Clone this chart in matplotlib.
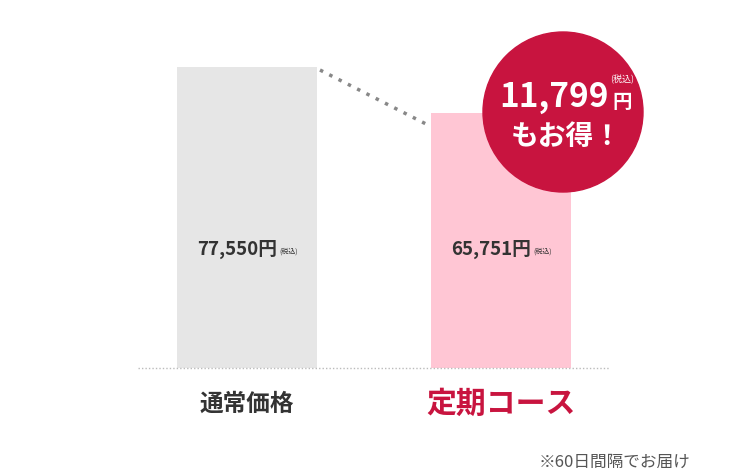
import matplotlib
matplotlib.use("Agg")
import matplotlib.pyplot as plt
from matplotlib.patches import Circle

plt.rcParams['font.family'] = ['Noto Sans CJK JP', 'DejaVu Sans']

categories = ["通常価格", "定期コース"]
prices = [77550, 65751]
price_labels = ["77,550", "65,751"]
savings_label = "11,799"
note = "※60日間隔でお届け"

W, H = 750, 470
fig = plt.figure(figsize=(W/100, H/100), dpi=100)
ax = fig.add_axes([0, 0, 1, 1])
ppu = 301 / prices[0]          # pixels per yen
pxx = 254.0                    # pixels per category step
base = 102                     # baseline px from bottom
ax.set_xlim(-247/pxx, (W-247)/pxx)
ax.set_ylim(-base/ppu, (H-base)/ppu)
ax.axis('off')

def px(x, y):  # pixel (from top-left) -> data
    return (x-247)/pxx, (H-y-base)/ppu

colors = ["#e6e6e6", "#ffc6d4"]
ax.bar([0, 1], prices, width=140/pxx, color=colors, zorder=2)

x0, _ = px(138, 0); x1, _ = px(610, 0)
ax.plot([x0, x1], [0, 0], ls=(0, (1, 1.5)), color="#bbbbbb", lw=1, zorder=3)

a = px(320, 70); b = px(428, 125)
ax.plot([a[0], b[0]], [a[1], b[1]], ls=(0, (1, 2)), color="#888888", lw=2.5, zorder=3)

for i, lab in enumerate(price_labels):
    x, y = px(277 + 254*i, 249)
    ax.text(x, y, lab + "円", ha='right', va='center',
            fontsize=13.5, fontweight='bold', color="#333333", zorder=4)
    x, y = px(279 + 254*i, 252)
    ax.text(x, y, "(税込)", ha='left', va='center',
            fontsize=5, color="#333333", zorder=4)

ax.text(0, -36/ppu, categories[0], ha='center', va='center', fontsize=17,
        fontweight='bold', color="#333333")
ax.text(1, -36/ppu, categories[1], ha='center', va='center', fontsize=21.5,
        fontweight='bold', color="#c8143f")

nx, ny = px(690, 462)
ax.text(nx, ny, note, ha='right', va='center', fontsize=12, color="#555555")

cx, cy = 563, 112
r = 80
circ = Circle((cx, H-cy), r, transform=None, color="#c8143f", zorder=5)
ax.add_patch(circ)
t = px(609, 97)
ax.text(*t, savings_label, ha='right', va='center', fontsize=24, fontweight='bold',
        color='white', zorder=6)
t = px(612, 102); ax.text(*t, "円", ha='left', va='center', fontsize=14,
                          fontweight='bold', color='white', zorder=6)
t = px(610, 80); ax.text(*t, "(税込)", ha='left', va='center', fontsize=6.5,
                         color='white', zorder=6)
t = px(566, 137); ax.text(*t, "もお得！", ha='center', va='center', fontsize=20,
                          fontweight='bold', color='white', zorder=6)

fig.savefig("out.png", dpi=100)
